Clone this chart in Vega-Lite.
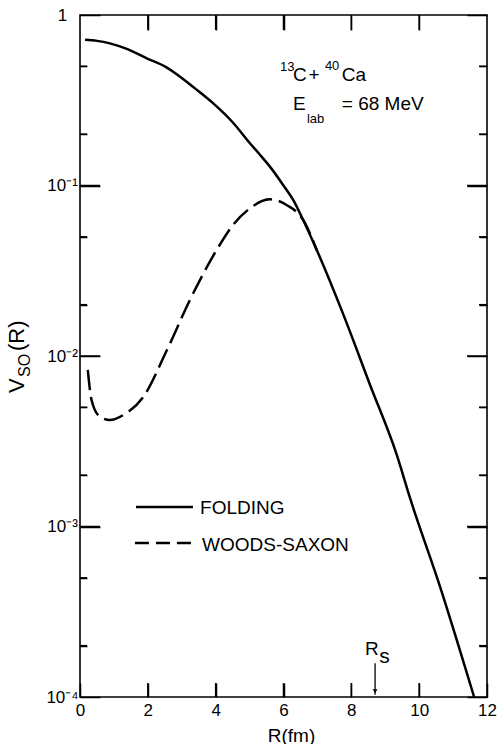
{
  "$schema": "https://vega.github.io/schema/vega-lite/v6.json",
  "width": 407,
  "height": 682,
  "autosize": "none",
  "padding": {"left": 80, "top": 15, "right": 12, "bottom": 47},
  "background": "white",
  "config": {
    "view": {"stroke": "black", "strokeWidth": 1.6},
    "font": "Liberation Sans",
    "axis": {"grid": false, "domain": false, "ticks": true, "tickColor": "black", "tickWidth": 1.5, "tickOpacity": 1, "zindex": 1, "labelColor": "black", "labelFont": "Liberation Sans", "labelFontSize": 17, "titleColor": "black", "titleFont": "Liberation Sans", "titleFontWeight": "normal"}
  },
  "resolve": {"axis": {"x": "independent", "y": "independent"}},
  "datasets": {
    "yMajor": [{"v": 0.001}, {"v": 0.01}, {"v": 0.1}],
    "yMinor": [{"v": 0.0002}, {"v": 0.0005}, {"v": 0.002}, {"v": 0.005}, {"v": 0.02}, {"v": 0.05}, {"v": 0.2}, {"v": 0.5}],
    "xTicks": [{"r": 2}, {"r": 4}, {"r": 6}, {"r": 8}, {"r": 10}]
  },
  "layer": [
    {
      "data": {"values": [
        {"r": 0.15, "v": 0.715}, {"r": 0.5, "v": 0.705}, {"r": 0.88, "v": 0.682}, {"r": 1.4, "v": 0.63},
        {"r": 1.97, "v": 0.557}, {"r": 2.5, "v": 0.5}, {"r": 2.95, "v": 0.435}, {"r": 3.4, "v": 0.37},
        {"r": 3.93, "v": 0.303}, {"r": 4.5, "v": 0.235}, {"r": 5.01, "v": 0.177}, {"r": 5.3, "v": 0.152},
        {"r": 5.6, "v": 0.129}, {"r": 6.0, "v": 0.1}, {"r": 6.29, "v": 0.0822}, {"r": 6.58, "v": 0.0628},
        {"r": 6.98, "v": 0.0419}, {"r": 7.76, "v": 0.0176}, {"r": 8.55, "v": 0.00678}, {"r": 9.34, "v": 0.00263},
        {"r": 9.73, "v": 0.00147}, {"r": 10.61, "v": 0.000447}, {"r": 11.62, "v": 0.0001}
      ]},
      "mark": {"type": "line", "color": "black", "strokeWidth": 2.5, "interpolate": "monotone"},
      "encoding": {
        "x": {"field": "r", "type": "quantitative", "scale": {"domain": [0, 12], "nice": false, "zero": false},
          "axis": {"orient": "bottom", "tickSize": -14, "values": [0, 2, 4, 6, 8, 10, 12], "labelPadding": 19, "labelFlush": false,
            "title": "R(fm)", "titleFontSize": 19, "titleX": 211, "titleY": 44, "titleBaseline": "alphabetic", "titleAlign": "center", "titleAnchor": null}},
        "y": {"field": "v", "type": "quantitative", "scale": {"type": "log", "domain": [0.0001, 1], "nice": false},
          "axis": {"orient": "left", "tickSize": -20, "values": [0.0001, 0.001, 0.01, 0.1, 1], "labelAlign": "center", "labelPadding": 38, "labelBaseline": "middle", "labelFlush": false, "title": null,
            "labelExpr": "datum.value >= 0.5 ? '1' : '10' + ['⁰','⁻¹','⁻²','⁻³','⁻⁴'][round(-log(datum.value)/LN10)]"}}
      }
    },
    {
      "data": {"values": [
        {"r": 0.23, "v": 0.00828}, {"r": 0.34, "v": 0.00552}, {"r": 0.59, "v": 0.0044}, {"r": 0.88, "v": 0.00421},
        {"r": 1.28, "v": 0.00451}, {"r": 1.87, "v": 0.00577}, {"r": 2.56, "v": 0.0108}, {"r": 3.24, "v": 0.0213},
        {"r": 4.03, "v": 0.0419}, {"r": 4.51, "v": 0.0586}, {"r": 5.01, "v": 0.0735}, {"r": 5.6, "v": 0.083},
        {"r": 6.09, "v": 0.0769}, {"r": 6.58, "v": 0.0628}, {"r": 6.98, "v": 0.0419}
      ]},
      "mark": {"type": "line", "color": "black", "strokeWidth": 2.5, "strokeDash": [20, 7], "interpolate": "monotone"},
      "encoding": {
        "x": {"field": "r", "type": "quantitative", "scale": {"domain": [0, 12], "nice": false, "zero": false},
          "axis": {"orient": "top", "tickSize": -15, "values": [2, 4, 6, 8, 10], "labels": false, "title": null}},
        "y": {"field": "v", "type": "quantitative", "scale": {"type": "log", "domain": [0.0001, 1], "nice": false},
          "axis": {"orient": "right", "tickSize": -20, "values": [0.0001, 0.001, 0.01, 0.1, 1], "labels": false, "title": null}}
      }
    },
    {
      "data": {"values": [
        {"r": 1.65, "r2": 3.33, "v": 0.0013, "series": "FOLDING"}
      ]},
      "mark": {"type": "rule", "color": "black", "strokeWidth": 2.5},
      "encoding": {
        "x": {"field": "r", "type": "quantitative", "scale": {"domain": [0, 12], "nice": false, "zero": false}, "axis": null},
        "x2": {"field": "r2"},
        "y": {"field": "v", "type": "quantitative", "scale": {"type": "log", "domain": [0.0001, 1], "nice": false},
          "axis": {"orient": "left", "tickSize": -7, "values": [0.0002, 0.0005, 0.002, 0.005, 0.02, 0.05, 0.2, 0.5], "labels": false, "title": null}}
      }
    },
    {
      "data": {"values": [
        {"r": 1.62, "r2": 3.33, "v": 0.0008, "series": "WOODS-SAXON"}
      ]},
      "mark": {"type": "rule", "color": "black", "strokeWidth": 2.5, "strokeDash": [14, 7]},
      "encoding": {
        "x": {"field": "r", "type": "quantitative", "scale": {"domain": [0, 12], "nice": false, "zero": false}, "axis": null},
        "x2": {"field": "r2"},
        "y": {"field": "v", "type": "quantitative", "scale": {"type": "log", "domain": [0.0001, 1], "nice": false},
          "axis": {"orient": "right", "tickSize": -8, "values": [0.0002, 0.0005, 0.002, 0.005, 0.02, 0.05, 0.2, 0.5], "labels": false, "title": null}}
      }
    },
    {
      "data": {"name": "yMajor"},
      "mark": {"type": "tick", "orient": "horizontal", "size": 20, "thickness": 1.5, "xOffset": 10, "color": "black", "opacity": 1},
      "encoding": {
        "x": {"datum": 0, "type": "quantitative", "scale": {"domain": [0, 12], "nice": false, "zero": false}, "axis": null},
        "y": {"field": "v", "type": "quantitative", "scale": {"type": "log", "domain": [0.0001, 1], "nice": false}, "axis": null}
      }
    },
    {
      "data": {"name": "yMinor"},
      "mark": {"type": "tick", "orient": "horizontal", "size": 7, "thickness": 1.5, "xOffset": 3.5, "color": "black", "opacity": 1},
      "encoding": {
        "x": {"datum": 0, "type": "quantitative", "scale": {"domain": [0, 12], "nice": false, "zero": false}, "axis": null},
        "y": {"field": "v", "type": "quantitative", "scale": {"type": "log", "domain": [0.0001, 1], "nice": false}, "axis": null}
      }
    },
    {
      "data": {"name": "yMajor"},
      "mark": {"type": "tick", "orient": "horizontal", "size": 20, "thickness": 1.5, "xOffset": -10, "color": "black", "opacity": 1},
      "encoding": {
        "x": {"datum": 12, "type": "quantitative", "scale": {"domain": [0, 12], "nice": false, "zero": false}, "axis": null},
        "y": {"field": "v", "type": "quantitative", "scale": {"type": "log", "domain": [0.0001, 1], "nice": false}, "axis": null}
      }
    },
    {
      "data": {"name": "yMinor"},
      "mark": {"type": "tick", "orient": "horizontal", "size": 8, "thickness": 1.5, "xOffset": -4, "color": "black", "opacity": 1},
      "encoding": {
        "x": {"datum": 12, "type": "quantitative", "scale": {"domain": [0, 12], "nice": false, "zero": false}, "axis": null},
        "y": {"field": "v", "type": "quantitative", "scale": {"type": "log", "domain": [0.0001, 1], "nice": false}, "axis": null}
      }
    },
    {
      "data": {"name": "xTicks"},
      "mark": {"type": "tick", "orient": "vertical", "size": 14, "thickness": 1.5, "yOffset": -7, "color": "black", "opacity": 1},
      "encoding": {
        "x": {"field": "r", "type": "quantitative", "scale": {"domain": [0, 12], "nice": false, "zero": false}, "axis": null},
        "y": {"datum": 0.0001, "type": "quantitative", "scale": {"type": "log", "domain": [0.0001, 1], "nice": false}, "axis": null}
      }
    },
    {
      "data": {"name": "xTicks"},
      "mark": {"type": "tick", "orient": "vertical", "size": 15, "thickness": 1.5, "yOffset": 7.5, "color": "black", "opacity": 1},
      "encoding": {
        "x": {"field": "r", "type": "quantitative", "scale": {"domain": [0, 12], "nice": false, "zero": false}, "axis": null},
        "y": {"datum": 1, "type": "quantitative", "scale": {"type": "log", "domain": [0.0001, 1], "nice": false}, "axis": null}
      }
    },
    {
      "data": {"values": [
        {"r": 8.7, "v": 0.000158, "r2": 8.7, "v2": 0.000103}
      ]},
      "mark": {"type": "rule", "color": "black", "strokeWidth": 1.3},
      "encoding": {
        "x": {"field": "r", "type": "quantitative", "scale": {"domain": [0, 12], "nice": false, "zero": false}, "axis": null},
        "y": {"field": "v", "type": "quantitative", "scale": {"type": "log", "domain": [0.0001, 1], "nice": false}, "axis": null},
        "y2": {"field": "v2"}
      }
    },
    {
      "data": {"values": [{"r": 8.7, "v": 0.000108}]},
      "mark": {"type": "point", "shape": "triangle-down", "filled": true, "color": "black", "size": 22, "opacity": 1},
      "encoding": {
        "x": {"field": "r", "type": "quantitative", "scale": {"domain": [0, 12], "nice": false, "zero": false}, "axis": null},
        "y": {"field": "v", "type": "quantitative", "scale": {"type": "log", "domain": [0.0001, 1], "nice": false}, "axis": null}
      }
    },
    {
      "data": {"values": [
        {"r": 6.28, "v": 0.41, "txt": "C"},
        {"r": 6.74, "v": 0.41, "txt": "+"},
        {"r": 7.72, "v": 0.41, "txt": "Ca"},
        {"r": 6.28, "v": 0.277, "txt": "E"},
        {"r": 7.72, "v": 0.277, "txt": "= 68 MeV"},
        {"r": 3.54, "v": 0.00118, "txt": "FOLDING"},
        {"r": 3.6, "v": 0.000718, "txt": "WOODS-SAXON"},
        {"r": 8.4, "v": 0.000176, "txt": "R"}
      ]},
      "mark": {"type": "text", "align": "left", "baseline": "alphabetic", "fontSize": 19, "color": "black"},
      "encoding": {
        "x": {"field": "r", "type": "quantitative", "scale": {"domain": [0, 12], "nice": false, "zero": false}, "axis": null},
        "y": {"field": "v", "type": "quantitative", "scale": {"type": "log", "domain": [0.0001, 1], "nice": false}, "axis": null},
        "text": {"field": "txt"}
      }
    },
    {
      "data": {"values": [
        {"r": 8.82, "v": 0.000158, "txt": "s"}
      ]},
      "mark": {"type": "text", "align": "left", "baseline": "alphabetic", "fontSize": 21, "color": "black"},
      "encoding": {
        "x": {"field": "r", "type": "quantitative", "scale": {"domain": [0, 12], "nice": false, "zero": false}, "axis": null},
        "y": {"field": "v", "type": "quantitative", "scale": {"type": "log", "domain": [0.0001, 1], "nice": false}, "axis": null},
        "text": {"field": "txt"}
      }
    },
    {
      "data": {"values": [
        {"r": 5.9, "v": 0.469, "txt": "13"},
        {"r": 7.22, "v": 0.476, "txt": "40"},
        {"r": 6.69, "v": 0.233, "txt": "lab"}
      ]},
      "mark": {"type": "text", "align": "left", "baseline": "alphabetic", "fontSize": 13, "color": "black"},
      "encoding": {
        "x": {"field": "r", "type": "quantitative", "scale": {"domain": [0, 12], "nice": false, "zero": false}, "axis": null},
        "y": {"field": "v", "type": "quantitative", "scale": {"type": "log", "domain": [0.0001, 1], "nice": false}, "axis": null},
        "text": {"field": "txt"}
      }
    },
    {
      "data": {"values": [
        {"r": -1.65, "v": 0.00607, "txt": "V"},
        {"r": -1.65, "v": 0.0107, "txt": "(R)"}
      ]},
      "mark": {"type": "text", "align": "left", "baseline": "alphabetic", "angle": 270, "fontSize": 22, "color": "black"},
      "encoding": {
        "x": {"field": "r", "type": "quantitative", "scale": {"domain": [0, 12], "nice": false, "zero": false}, "axis": null},
        "y": {"field": "v", "type": "quantitative", "scale": {"type": "log", "domain": [0.0001, 1], "nice": false}, "axis": null},
        "text": {"field": "txt"}
      }
    },
    {
      "data": {"values": [
        {"r": -1.47, "v": 0.00753, "txt": "SO"}
      ]},
      "mark": {"type": "text", "align": "left", "baseline": "alphabetic", "angle": 270, "fontSize": 16, "color": "black"},
      "encoding": {
        "x": {"field": "r", "type": "quantitative", "scale": {"domain": [0, 12], "nice": false, "zero": false}, "axis": null},
        "y": {"field": "v", "type": "quantitative", "scale": {"type": "log", "domain": [0.0001, 1], "nice": false}, "axis": null},
        "text": {"field": "txt"}
      }
    }
  ]
}
